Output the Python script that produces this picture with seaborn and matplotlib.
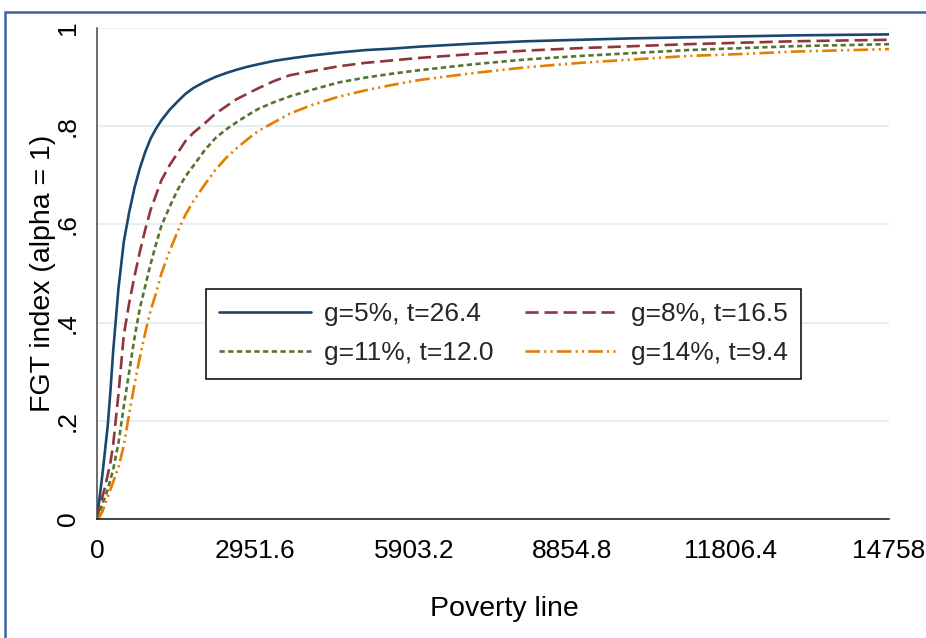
"""FGT index (alpha = 1) against the poverty line, four growth scenarios."""

import matplotlib.pyplot as plt
import pandas as pd
import seaborn as sns
from matplotlib.patches import Rectangle

poverty_line = [0, 50, 100, 150, 200, 250, 300, 400, 500, 600, 700, 800, 900, 1000,
                1100, 1200, 1350, 1500, 1650, 1800, 2000, 2200, 2400, 2600, 2800, 3000,
                3300, 3600, 4000, 4500, 5000, 5500, 6000, 7000, 8000, 9000, 10000,
                11000, 12000, 13000, 14758]

fgt_g5 = [0, 0.045, 0.09, 0.14, 0.19, 0.26, 0.34, 0.47, 0.565, 0.625, 0.675, 0.715, 0.748,
          0.775, 0.795, 0.812, 0.833, 0.85, 0.866, 0.878, 0.89, 0.90, 0.908, 0.915, 0.921,
          0.926, 0.933, 0.938, 0.944, 0.950, 0.955, 0.958, 0.962, 0.968, 0.973, 0.976,
          0.979, 0.981, 0.983, 0.985, 0.987]
fgt_g8 = [0, 0.025, 0.045, 0.065, 0.09, 0.115, 0.15, 0.255, 0.375, 0.44, 0.495, 0.545, 0.59,
          0.63, 0.66, 0.69, 0.72, 0.745, 0.77, 0.787, 0.805, 0.825, 0.84, 0.855, 0.866,
          0.877, 0.892, 0.904, 0.912, 0.922, 0.929, 0.934, 0.939, 0.947, 0.954, 0.959,
          0.963, 0.967, 0.970, 0.973, 0.976]
fgt_g11 = [0, 0.015, 0.03, 0.045, 0.06, 0.08, 0.10, 0.155, 0.23, 0.30, 0.37, 0.43, 0.475,
           0.52, 0.56, 0.597, 0.635, 0.67, 0.698, 0.72, 0.75, 0.775, 0.793, 0.808, 0.822,
           0.835, 0.849, 0.861, 0.874, 0.889, 0.899, 0.907, 0.914, 0.926, 0.936, 0.943,
           0.949, 0.955, 0.959, 0.963, 0.967]
fgt_g14 = [0, 0.005, 0.015, 0.03, 0.045, 0.06, 0.075, 0.105, 0.15, 0.215, 0.275, 0.33, 0.38,
           0.425, 0.46, 0.50, 0.545, 0.585, 0.62, 0.648, 0.68, 0.71, 0.735, 0.755, 0.773,
           0.79, 0.808, 0.826, 0.843, 0.86, 0.873, 0.884, 0.894, 0.908, 0.92, 0.929,
           0.936, 0.943, 0.947, 0.952, 0.957]

labels = ["g=5%, t=26.4", "g=8%, t=16.5", "g=11%, t=12.0", "g=14%, t=9.4"]
x_ticks = [0, 2951.6, 5903.2, 8854.8, 11806.4, 14758]
x_ticklabels = ["0", "2951.6", "5903.2", "8854.8", "11806.4", "14758"]
y_ticks = [0, 0.2, 0.4, 0.6, 0.8, 1.0]
y_ticklabels = ["0", ".2", ".4", ".6", ".8", "1"]

df = pd.DataFrame({"z": poverty_line * 4,
                   "fgt": fgt_g5 + fgt_g8 + fgt_g11 + fgt_g14,
                   "scenario": [lab for lab in labels for _ in poverty_line]})

colors = ["#1a476f", "#90353b", "#55752f", "#e37e00"]
dashes = ["-", (0, (5, 2.2)), (0, (2, 1.3)), (0, (5.5, 1.6, 0.8, 1.6, 0.8, 1.6))]

sns.set_theme(style="white")
plt.rcParams["font.family"] = ["Liberation Sans", "DejaVu Sans"]

fig = plt.figure(figsize=(9.26, 6.38), dpi=100)
ax = fig.add_axes([97 / 926, 119 / 638, 792 / 926, 491 / 638])

for lab, col, ls in zip(labels, colors, dashes):
    sub = df[df["scenario"] == lab]
    sns.lineplot(data=sub, x="z", y="fgt", ax=ax, color=col, linestyle=ls,
                 linewidth=1.9, label=lab)

ax.set_xlim(0, 14758)
ax.set_ylim(0, 1)
ax.set_xticks(x_ticks)
ax.set_xticklabels(x_ticklabels)
ax.set_yticks(y_ticks)
ax.set_yticklabels(y_ticklabels, rotation=90, va="center")
ax.yaxis.grid(True, color="#e8eff1", linewidth=1.6)
ax.set_axisbelow(True)

for side in ["top", "right"]:
    ax.spines[side].set_visible(False)
ax.spines["left"].set_color("#444444")
ax.spines["bottom"].set_color("#111111")
ax.spines["left"].set_linewidth(1.1)
ax.spines["bottom"].set_linewidth(1.1)
ax.tick_params(axis="both", direction="out", length=6.5, width=1.0, color="#333333",
               labelsize=19, labelcolor="black")
ax.tick_params(axis="y", pad=6)
ax.tick_params(axis="x", pad=8)

ax.set_xlabel("Poverty line", fontsize=20.5, color="black")
ax.set_ylabel("FGT index (alpha = 1)", fontsize=20.5, color="black")
ax.xaxis.set_label_coords(0.514, -0.157)
ax.yaxis.set_label_coords(-0.052, 0.5)

# legend filled row by row like the original
handles, names = ax.get_legend_handles_labels()
order = [0, 2, 1, 3]
leg = ax.legend([handles[i] for i in order], [names[i] for i in order],
                ncol=2, loc="center", bbox_to_anchor=(0.513, 0.377), fontsize=19,
                frameon=True, fancybox=False, edgecolor="black", framealpha=1,
                handlelength=3.5, handletextpad=0.5, columnspacing=1.2,
                labelspacing=0.57, borderpad=0.5)
leg.get_frame().set_linewidth(1.1)

# blue frame around the whole graph
fig.patches.append(Rectangle((5 / 926, -0.05), 1.1, 1 - 12 / 638 + 0.05,
                             transform=fig.transFigure, fill=False,
                             edgecolor="#3b63a5", linewidth=1.8))

fig.savefig("out.png", dpi=100)
plt.close(fig)
